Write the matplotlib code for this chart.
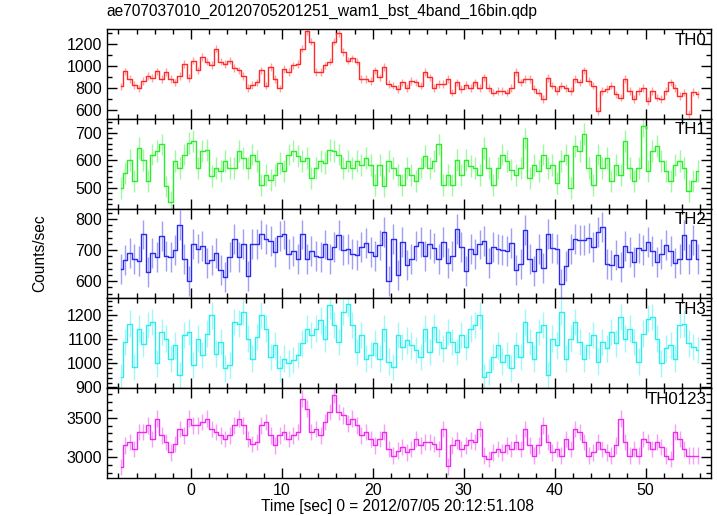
import numpy as np
import matplotlib
matplotlib.use('Agg')
import matplotlib.pyplot as plt
from matplotlib.ticker import MultipleLocator

plt.rcParams['font.family'] = ['Liberation Sans', 'DejaVu Sans']

# light curve, 0.5 s bins starting at -7.75 s
t_start = -7.75
bin_width = 0.5

th0 = [812, 950, 880, 825, 795, 865, 910, 890, 950, 880,
       945, 880, 850, 910, 1020, 890, 1050, 960, 1085, 1040,
       1010, 1160, 1040, 1020, 1050, 980, 960, 910, 800, 825,
       850, 960, 820, 990, 880, 795, 975, 945, 1005, 1020,
       1160, 1320, 1225, 945, 945, 1005, 1040, 1225, 1300, 1130,
       1050, 1070, 1040, 880, 880, 865, 960, 895, 990, 835,
       820, 790, 850, 800,
       865, 850, 820, 945, 895, 800, 835, 835, 880, 755,
       850, 790, 825, 800, 850, 800, 895, 800, 755, 770,
       770, 755, 800, 945, 850, 880, 880, 790, 755, 695,
       890, 820, 770, 820, 800, 770, 880, 850, 960, 865,
       820, 585, 770, 790, 820, 740, 710, 880, 770, 695,
       770, 800, 680, 770, 710, 695, 770, 850, 800, 725,
       755, 560, 760, 740]

th1 = [498, 553, 602, 523, 645, 602, 523, 621, 633, 658,
       504, 449, 596, 572, 621, 664, 670, 572, 633, 639,
       541, 572, 560, 596, 572, 572, 633, 609, 572, 621,
       596, 510, 547, 529, 547, 590, 560, 621, 633, 615,
       596, 609, 535, 572, 596, 590, 639, 633, 621, 572,
       596, 572, 596, 584, 609, 584, 510, 584, 504, 596,
       572, 547, 510, 572,
       547, 523, 572, 615, 572, 596, 658, 510, 547, 510,
       602, 547, 602, 578, 572, 547, 645, 572, 510, 572,
       621, 596, 566, 547, 572, 680, 535, 584, 560, 621,
       572, 584, 517, 596, 621, 498, 652, 633, 695, 572,
       510, 621, 572, 609, 523, 584, 547, 670, 572, 523,
       572, 725, 560, 633, 652, 596, 560, 523, 584, 596,
       572, 486, 523, 560]

th2 = [640, 667, 690, 672, 665, 750, 629, 690, 677, 745,
       680, 677, 700, 780, 670, 602, 720, 705, 712, 660,
       667, 690, 637, 613, 677, 735, 677, 720, 618, 720,
       720, 750, 735, 730, 695, 745, 750, 688, 697, 672,
       750, 670, 696, 680, 678, 718, 672, 710, 747, 700,
       704, 688, 683, 710, 723, 694, 680, 715, 758, 602,
       737, 621, 725, 651,
       670, 712, 726, 680, 720, 707, 670, 725, 658, 680,
       769, 710, 632, 704, 688, 718, 728, 658, 710, 704,
       699, 697, 724, 637, 656, 764, 672, 632, 702, 642,
       752, 707, 704, 592, 650, 704, 737, 732, 731, 739,
       710, 758, 774, 655, 653, 683, 645, 712, 694, 661,
       707, 699, 725, 697, 661, 686, 717, 697, 659, 672,
       747, 670, 733, 672]

th3 = [944, 1090, 1165, 985, 1145, 1080, 1160, 1172, 1000, 1130,
       1103, 1020, 1075, 951, 1117, 1130, 993, 1103, 1034, 1124,
       1200, 1041, 1090, 979, 993, 1172, 1165, 1214, 1103, 1020,
       1110, 1200, 1145, 1027, 1075, 979, 1020, 1000, 1014, 1034,
       1083, 1145, 1117, 1145, 1179, 1103, 1241, 1159, 1090, 1214,
       1248, 1159, 1048, 1117, 1020, 1034, 1083, 1020, 1145, 1007,
       986, 1117, 1069, 1096, 1075, 1055, 1027, 1145, 1048, 1152,
       1090, 1062, 1131, 1090, 1048, 1117, 1069, 1145, 1159, 1200,
       944, 965, 1027, 1075, 1007, 1034, 979, 1075, 1027, 1172,
       1090, 1020, 1131, 1159, 951, 1103, 1075, 1214, 1020, 1103,
       1172, 1090, 1020, 1075, 1117, 1007, 1090, 1062, 1131, 1083,
       1193, 1103, 1145, 1090, 1007, 1124, 1186, 1193, 1103, 1000,
       1062, 1075, 1020, 1159, 1165, 1083, 1069, 1055]

th0123 = [2870, 3146, 3188, 3103, 3316, 3316, 3402, 3231, 3487, 3274,
          3188, 3060, 3167, 3359, 3274, 3487, 3402, 3402, 3444, 3487,
          3359, 3316, 3274, 3231, 3274, 3402, 3487, 3402, 3231, 3167,
          3188, 3402, 3444, 3274, 3146, 3274, 3316, 3231, 3274, 3316,
          3743, 3615, 3316, 3359, 3274, 3444, 3573, 3786, 3573, 3530,
          3423, 3487, 3402, 3274, 3316, 3231, 3146, 3231, 3316, 3103,
          3017, 3081, 3124, 3060, 3103, 3231, 3146, 3188, 3188, 3167,
          3103, 3359, 2880, 3146, 3210, 3103, 3146, 3210, 3188, 3359,
          3017, 2975, 3060, 3103, 3060, 3146, 3103, 3188, 3103, 3359,
          3146, 3017, 3146, 3402, 3188, 3060, 3103, 3017, 3231, 3103,
          3359, 3316, 3188, 3017, 3060, 3188, 3103, 3060, 3017, 3146,
          3487, 3188, 3017, 3103, 3017, 3231, 3188, 3103, 3188, 3124,
          3017, 2975, 3316, 3231, 3103, 3017, 3017, 3017]

# typical 1-sigma errors per band
th0_err = 35
th1_err = 40
th2_err = 48
th3_err = 55
th0123_err = 105

panels = [
    ('TH0', th0, th0_err, '#ff2a2a', (515, 1340), 200, 100),
    ('TH1', th1, th1_err, '#2aee2a', (423, 752), 100, 20),
    ('TH2', th2, th2_err, '#2a2aee', (545, 833), 100, 20),
    ('TH3', th3, th3_err, '#2aeeee', (897, 1270), 100, 20),
    ('TH0123', th0123, th0123_err, '#ee2aee', (2732, 3875), 500, 100),
]

time = t_start + bin_width * np.arange(len(th0))

fig, axes = plt.subplots(5, 1, sharex=True, figsize=(7.17, 5.16), dpi=100)
fig.subplots_adjust(left=0.1492, right=0.9916, top=0.9438, bottom=0.0736, hspace=0)

for ax, (name, vals, err, color, ylim, major, minor) in zip(axes, panels):
    vals = np.asarray(vals)
    ax.errorbar(time, vals, yerr=err, fmt='none', ecolor=color,
                elinewidth=1, alpha=0.45)
    ax.step(time, vals, where='mid', color=color, lw=1)
    ax.set_ylim(*ylim)
    ax.yaxis.set_major_locator(MultipleLocator(major))
    ax.yaxis.set_minor_locator(MultipleLocator(minor))
    ax.xaxis.set_major_locator(MultipleLocator(10))
    ax.xaxis.set_minor_locator(MultipleLocator(2))
    ax.tick_params(which='both', direction='in', top=True, right=True,
                   labelsize=11.5, width=1)
    ax.tick_params(which='major', length=7)
    ax.tick_params(which='minor', length=3.5)
    for s in ax.spines.values():
        s.set_linewidth(1)
    ax.text(0.993, 0.877, name, transform=ax.transAxes, ha='right',
            va='center', fontsize=12.2)

axes[-1].set_xlim(-9.25, 57.2)

fig.text(0.149, 0.977, 'ae707037010_20120705201251_wam1_bst_4band_16bin.qdp',
         ha='left', va='center', fontsize=11.2)
fig.text(0.055, 0.51, 'Counts/sec', rotation=90, ha='center', va='center',
         fontsize=11.2)
fig.text(0.554, 0.019, 'Time [sec] 0 = 2012/07/05 20:12:51.108',
         ha='center', va='center', fontsize=11.2)

fig.savefig('out.png', dpi=100)
